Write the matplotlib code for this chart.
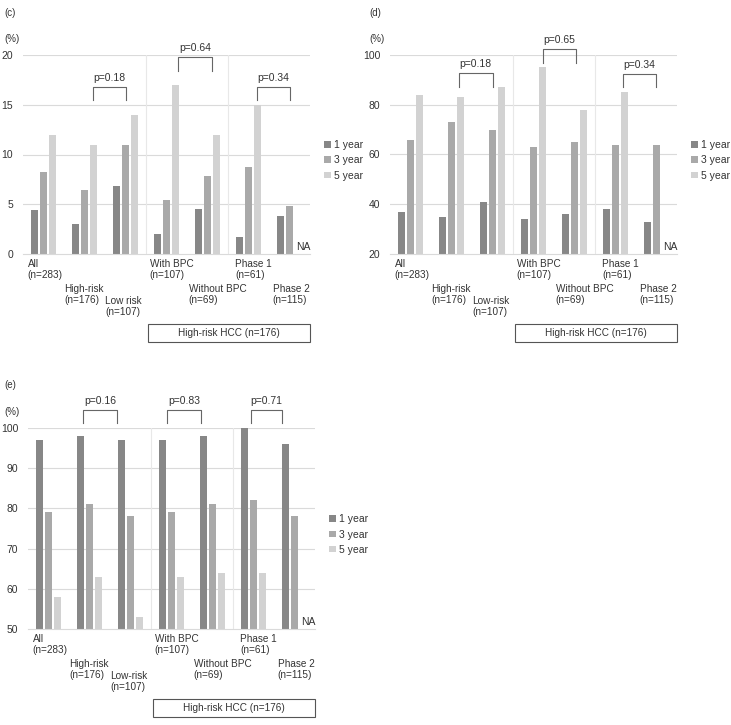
import numpy as np
import matplotlib
matplotlib.use('Agg')
import matplotlib.pyplot as plt
import matplotlib.transforms as mtransforms
from matplotlib.patches import Rectangle

plt.rcParams['font.family'] = ['Liberation Sans', 'DejaVu Sans']
plt.rcParams['font.size'] = 7.2

## data
cat_c = ['All\n(n=283)', 'High-risk\n(n=176)', 'Low risk\n(n=107)', 'With BPC\n(n=107)',
         'Without BPC\n(n=69)', 'Phase 1\n(n=61)', 'Phase 2\n(n=115)']
cat_de = ['All\n(n=283)', 'High-risk\n(n=176)', 'Low-risk\n(n=107)', 'With BPC\n(n=107)',
          'Without BPC\n(n=69)', 'Phase 1\n(n=61)', 'Phase 2\n(n=115)']
series_names = ['1 year', '3 year', '5 year']

c_1y = [4.4, 3.0, 6.8, 2.0, 4.5, 1.7, 3.8]
c_3y = [8.2, 6.4, 11.0, 5.4, 7.8, 8.7, 4.8]
c_5y = [12, 11, 14, 17, 12, 15, np.nan]
c_ticks = [0, 5, 10, 15, 20]
c_pvals = ['p=0.18', 'p=0.64', 'p=0.34']

d_1y = [37, 35, 41, 34, 36, 38, 33]
d_3y = [66, 73, 70, 63, 65, 64, 64]
d_5y = [84, 83, 87, 95, 78, 85, np.nan]
d_ticks = [20, 40, 60, 80, 100]
d_pvals = ['p=0.18', 'p=0.65', 'p=0.34']

e_1y = [97, 98, 97, 97, 98, 100, 96]
e_3y = [79, 81, 78, 79, 81, 82, 78]
e_5y = [58, 63, 53, 63, 64, 64, np.nan]
e_ticks = [50, 60, 70, 80, 90, 100]
e_pvals = ['p=0.16', 'p=0.83', 'p=0.71']

box_text = 'High-risk HCC (n=176)'

colors = ['#878787', '#a9a9a9', '#d2d2d2']
grid_c = '#dadada'
W, H = 731, 725

fig = plt.figure(figsize=(W / 100, H / 100), dpi=100)


def make_ax(x0, y_top, w, h):
    return fig.add_axes([x0 / W, 1 - (y_top + h) / H, w / W, h / H])


def panel(ax, cats, vals, ticks, pvals, br_x, br_lo, br_hi, label_dx):
    h_px = ax.get_position().height * H
    x = np.arange(len(cats))
    for k, v in enumerate(vals):
        ax.bar(x + (k - 1) * 0.225, v, width=0.18, color=colors[k], label=series_names[k], zorder=2)
    ax.set_xlim(-0.5, 6.5)
    ax.set_ylim(ticks[0], ticks[-1])
    ax.set_yticks(ticks)
    ax.set_xticks([])
    ax.tick_params(axis='y', length=0, pad=7, labelsize=7.5, labelcolor='#333333')
    for s in ['top', 'right', 'left']:
        ax.spines[s].set_visible(False)
    ax.spines['bottom'].set_color(grid_c)
    ax.spines['bottom'].set_linewidth(0.8)
    for t in ticks[1:]:
        ax.axhline(t, color=grid_c, lw=0.8, zorder=0)
    for xv in [2.5, 4.5]:
        ax.axvline(xv, color='#e8e8e8', lw=0.8, zorder=0)

    # NA for missing 5 year
    ax.annotate('NA', xy=(6.33, ticks[0]), xytext=(0, 2), textcoords='offset pixels',
                ha='center', va='bottom', fontsize=7.5, color='#333333')

    # staggered category labels
    rows = [0, 1, 2, 0, 1, 0, 1]
    row_off = [5, 30, 42]
    for i, c in enumerate(cats):
        ax.annotate(c, xy=(i + label_dx[i], 0), xycoords=('data', 'axes fraction'),
                    xytext=(0, -row_off[rows[i]]), textcoords='offset pixels',
                    ha='left', va='top', linespacing=1.15, color='#333333')

    # bracket and p value
    for j, p in enumerate(pvals):
        x0, x1 = br_x[j]
        ax.plot([x0, x0, x1, x1], [br_lo[j], br_hi[j], br_hi[j], br_lo[j]],
                color='#666666', lw=0.8, clip_on=False)
        ax.annotate(p, xy=((x0 + x1) / 2, br_hi[j]), xytext=(0, 4), textcoords='offset pixels',
                    ha='center', va='bottom', fontsize=7.5, color='#333333', annotation_clip=False)

    # box below the subgroups
    trans = mtransforms.blended_transform_factory(ax.transData, ax.transAxes)
    ax.add_patch(Rectangle((2.56, -88 / h_px), 3.93, 18 / h_px, transform=trans,
                           fill=False, edgecolor='#555555', lw=0.8, clip_on=False))
    ax.text(2.56 + 3.93 / 2, -79 / h_px, box_text, transform=trans,
            ha='center', va='center', color='#333333')

    ax.legend(loc='center left', bbox_to_anchor=(1.05, 0.47), frameon=False,
              handlelength=0.6, handleheight=0.6, handletextpad=0.35, labelspacing=0.5,
              borderpad=0, borderaxespad=0, fontsize=7.5, labelcolor='#333333')


dx = [-0.39, -0.49, -0.49, -0.41, -0.46, -0.32, -0.41]

ax_c = make_ax(23, 55, 287, 199)
panel(ax_c, cat_c, [c_1y, c_3y, c_5y], c_ticks, c_pvals,
      [(1.2, 2.0), (3.29, 4.1), (5.2, 6.0)], [15.5, 18.4, 15.5], [16.8, 19.8, 16.8], dx)

ax_d = make_ax(390, 55, 287, 199)
panel(ax_d, cat_de, [d_1y, d_3y, d_5y], d_ticks, d_pvals,
      [(1.18, 2.0), (3.23, 4.03), (5.18, 5.99)], [87.3, 96.9, 87.0], [92.9, 102.3, 92.4], dx)

ax_e = make_ax(28, 428, 287, 201)
panel(ax_e, cat_de, [e_1y, e_3y, e_5y], e_ticks, e_pvals,
      [(0.85, 1.66), (2.9, 3.73), (4.93, 5.7)], [101.2, 101.2, 101.2], [104.6, 104.6, 104.6], dx)

# panel letters and unit labels
for lab, px, py in [('(c)', 10, 13), ('(d)', 375, 13), ('(e)', 10, 385)]:
    fig.text(px / W, 1 - py / H, lab, ha='center', va='center', fontsize=7, color='#333333')
for px, py in [(12, 39), (377, 39), (12, 412)]:
    fig.text(px / W, 1 - py / H, '(%)', ha='center', va='center', fontsize=7, color='#333333')

fig.savefig('out.png', dpi=100)
